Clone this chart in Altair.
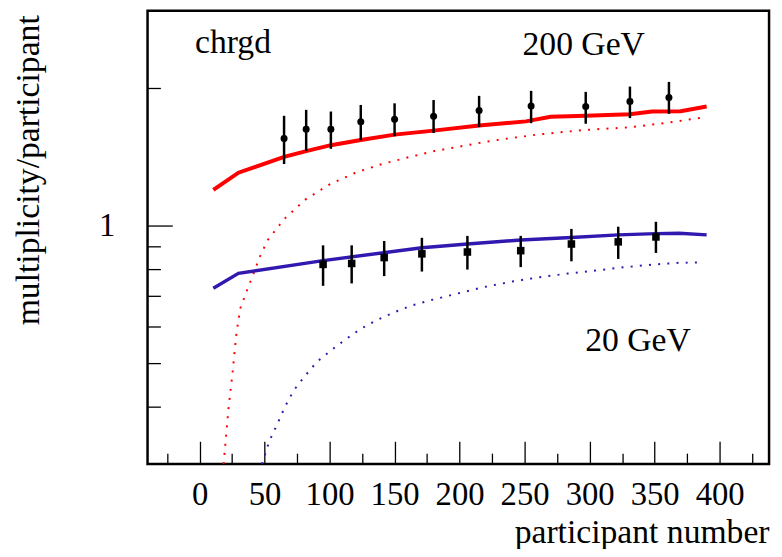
import altair as alt
import pandas as pd

# ---- data ----
# 200 GeV measured points (circles)
x_200 = [65, 82, 101, 124, 150, 180, 215, 255, 297, 331, 361]
y_200 = [1.549, 1.623, 1.623, 1.686, 1.708, 1.734, 1.784, 1.826, 1.820, 1.868, 1.905]
hi_200 = [1.737, 1.790, 1.775, 1.835, 1.850, 1.881, 1.921, 1.970, 1.960, 2.013, 2.061]
lo_200 = [1.362, 1.454, 1.471, 1.536, 1.567, 1.593, 1.641, 1.674, 1.669, 1.717, 1.755]

# 20 GeV measured points (squares)
x_20 = [95, 117, 142, 171, 206, 247, 286, 322, 351]
y_20 = [0.821, 0.825, 0.850, 0.866, 0.874, 0.880, 0.910, 0.920, 0.943]
hi_20 = [0.904, 0.904, 0.924, 0.939, 0.948, 0.948, 0.982, 0.993, 1.018]
lo_20 = [0.737, 0.746, 0.774, 0.792, 0.800, 0.810, 0.834, 0.844, 0.870]

# solid model curves
red_x = [10.6, 29.9, 65, 82, 101, 124, 150, 180, 215, 251, 270, 297, 331, 348, 370, 390]
red_y = [1.196, 1.304, 1.412, 1.454, 1.498, 1.538, 1.580, 1.612, 1.655, 1.689, 1.729,
         1.737, 1.751, 1.775, 1.778, 1.820]
blue_x = [10.6, 29.9, 95, 171, 206, 247, 286, 322, 351, 369, 390]
blue_y = [0.728, 0.785, 0.837, 0.893, 0.910, 0.929, 0.940, 0.953, 0.959, 0.961, 0.953]

# dotted model curves
reddot_x = [18.5, 22.1, 25.3, 28.1, 31.2, 36.2, 41.3, 46.4, 52.5, 61.3, 65.9, 81.8, 99.8,
            119.4, 139.9, 160.5, 180.7, 224.3, 259.5, 295.3, 331.0, 359.7, 387.8]
reddot_y = [0.300, 0.393, 0.473, 0.571, 0.656, 0.717, 0.781, 0.854, 0.929, 1.000, 1.037,
            1.141, 1.228, 1.302, 1.361, 1.409, 1.454, 1.531, 1.580, 1.617, 1.639, 1.678, 1.723]
bluedot_x = [48.0, 53.7, 59.8, 65.6, 72.2, 81.1, 90.2, 101.4, 112.8, 124.7, 137.3, 150.3,
             163.5, 177.4, 198.5, 219.2, 240.5, 261.8, 283.1, 304.4, 325.7, 347.5, 368.8, 383.3]
bluedot_y = [0.300, 0.337, 0.367, 0.400, 0.434, 0.468, 0.502, 0.533, 0.564, 0.595, 0.622,
             0.646, 0.668, 0.685, 0.709, 0.733, 0.753, 0.770, 0.784, 0.796, 0.809, 0.820,
             0.828, 0.829]

# annotations
note_text = ["chrgd", "200 GeV", "20 GeV"]
note_x = [-3.5, 248.4, 296.6]
note_y = [2.384, 2.365, 0.5316]

# axes
x_major = [0, 50, 100, 150, 200, 250, 300, 350, 400]
x_minor = [-25, 25, 75, 125, 175, 225, 275, 325, 375, 425]
y_major = [1]
y_minor = [0.4, 0.5, 0.6, 0.7, 0.8, 0.9, 2]

FONT = "Liberation Serif"
RED = "#ff0000"
BLUE = "#3318b0"

xs = alt.Scale(domain=[-40, 438], nice=False, zero=False)
ys = alt.Scale(type="log", domain=[0.3, 2.95], nice=False)

d200 = pd.DataFrame({"x": x_200, "y": y_200, "hi": hi_200, "lo": lo_200})
d20 = pd.DataFrame({"x": x_20, "y": y_20, "hi": hi_20, "lo": lo_20})
dred = pd.DataFrame({"x": red_x, "y": red_y})
dblue = pd.DataFrame({"x": blue_x, "y": blue_y})
dreddot = pd.DataFrame({"x": reddot_x, "y": reddot_y})
dbluedot = pd.DataFrame({"x": bluedot_x, "y": bluedot_y})
dnote = pd.DataFrame({"t": note_text, "x": note_x, "y": note_y})

x_axis_major = alt.Axis(values=x_major, format="d", orient="bottom", offset=-23,
                        tickSize=23, tickWidth=1.3, tickColor="black", domain=False,
                        grid=False, labelFont=FONT, labelFontSize=33, labelColor="black",
                        labelBaseline="alphabetic", labelPadding=41,
                        title="participant number", titleFont=FONT, titleFontSize=34,
                        titleFontWeight="normal", titleColor="black", titleAlign="right",
                        titleAnchor="end", titleX=628, titleY=102,
                        titleBaseline="alphabetic", labelFlush=False, labelOverlap=False)
x_axis_minor = alt.Axis(values=x_minor, orient="bottom", offset=-11, tickSize=11,
                        tickWidth=1.3, tickColor="black", domain=False, grid=False,
                        labels=False, title=None)
y_axis_major = alt.Axis(values=y_major, format="d", orient="left", offset=-25,
                        tickSize=25, tickWidth=1.3, tickColor="black", domain=False,
                        grid=False, labelFont=FONT, labelFontSize=33, labelColor="black",
                        labelPadding=33, labelFlush=False, labelOverlap=False,
                        title="multiplicity/participant", titleFont=FONT, titleFontSize=34,
                        titleFontWeight="normal", titleColor="black", titleAlign="right",
                        titleAngle=270, titleX=-135, titleY=4,
                        titleBaseline="alphabetic")
y_axis_minor = alt.Axis(values=y_minor, orient="left", offset=-13, tickSize=13,
                        tickWidth=1.3, tickColor="black", domain=False, grid=False,
                        labels=False, title=None)

reddot = alt.Chart(dreddot).mark_line(color=RED, strokeWidth=2, strokeDash=[2, 7.3],
                                      clip=True).encode(
    x=alt.X("x:Q", scale=xs, axis=x_axis_major),
    y=alt.Y("y:Q", scale=ys, axis=y_axis_major))
bluedot = alt.Chart(dbluedot).mark_line(color=BLUE, strokeWidth=2, strokeDash=[2, 7.3],
                                        clip=True).encode(
    x=alt.X("x:Q", scale=xs, axis=x_axis_minor),
    y=alt.Y("y:Q", scale=ys, axis=y_axis_minor))
redline = alt.Chart(dred).mark_line(color=RED, strokeWidth=4, clip=True).encode(
    x=alt.X("x:Q", scale=xs, axis=None), y=alt.Y("y:Q", scale=ys, axis=None))
blueline = alt.Chart(dblue).mark_line(color=BLUE, strokeWidth=3.5, clip=True).encode(
    x=alt.X("x:Q", scale=xs, axis=None), y=alt.Y("y:Q", scale=ys, axis=None))
err200 = alt.Chart(d200).mark_rule(color="black", strokeWidth=2.5).encode(
    x=alt.X("x:Q", scale=xs, axis=None), y=alt.Y("lo:Q", scale=ys, axis=None), y2="hi:Q")
err20 = alt.Chart(d20).mark_rule(color="black", strokeWidth=2.5).encode(
    x=alt.X("x:Q", scale=xs, axis=None), y=alt.Y("lo:Q", scale=ys, axis=None), y2="hi:Q")
pts200 = alt.Chart(d200).mark_point(shape="circle", filled=True, color="black",
                                    opacity=1, size=50).encode(
    x=alt.X("x:Q", scale=xs, axis=None), y=alt.Y("y:Q", scale=ys, axis=None))
pts20 = alt.Chart(d20).mark_point(shape="square", filled=True, color="black",
                                  opacity=1, size=58).encode(
    x=alt.X("x:Q", scale=xs, axis=None), y=alt.Y("y:Q", scale=ys, axis=None))
notes = alt.Chart(dnote).mark_text(font=FONT, fontSize=34, align="left",
                                   baseline="alphabetic", color="black").encode(
    x=alt.X("x:Q", scale=xs, axis=None), y=alt.Y("y:Q", scale=ys, axis=None),
    text="t:N")

chart = alt.layer(reddot, bluedot, redline, blueline, err200, err20, pts200, pts20,
                  notes).resolve_axis(x="independent", y="independent").properties(
    width=628, height=458,
    autosize=alt.AutoSizeParams(type="none"),
    padding={"left": 141, "top": 0, "right": 5, "bottom": 83},
).configure_view(stroke="black", strokeWidth=2.5)

chart.save("out.html", embed_options={"renderer": "svg", "actions": False})
